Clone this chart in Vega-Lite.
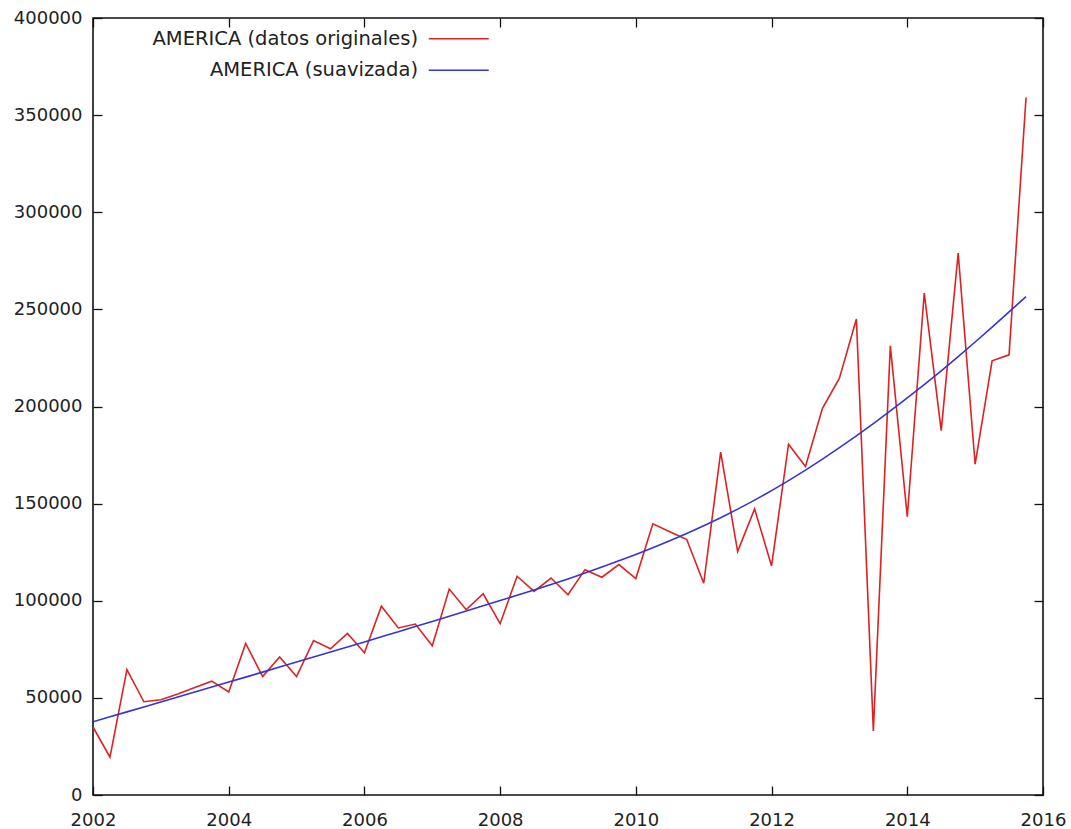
{
  "$schema": "https://vega.github.io/schema/vega-lite/v6.json",
  "width": 950,
  "height": 777,
  "autosize": {"type": "none"},
  "padding": {"left": 93, "top": 18, "right": 28, "bottom": 34},
  "background": "#ffffff",
  "config": {
    "view": {"stroke": "#111111", "strokeWidth": 1.6},
    "font": "DejaVu Sans",
    "axis": {
      "grid": false,
      "domain": false,
      "tickColor": "#111111",
      "tickWidth": 1.3,
      "tickSize": -9,
      "labelFont": "DejaVu Sans",
      "labelFontSize": 18,
      "labelColor": "#222222",
      "title": null
    },
    "legend": {
      "orient": "none",
      "legendX": 356,
      "legendY": 11,
      "padding": 0,
      "title": null,
      "symbolType": "M-6,0H6",
      "symbolSize": 100,
      "symbolStrokeWidth": 1.6,
      "labelFont": "DejaVu Sans",
      "labelFontSize": 19.5,
      "labelColor": "#222222",
      "labelAlign": "right",
      "labelOffset": -50.5,
      "labelLimit": 0,
      "rowPadding": 10.5
    }
  },
  "data": {
    "values": [
      {"serie": "AMERICA (datos originales)", "anio": 2002.00, "valor": 35000},
      {"serie": "AMERICA (datos originales)", "anio": 2002.25, "valor": 19500},
      {"serie": "AMERICA (datos originales)", "anio": 2002.50, "valor": 64500},
      {"serie": "AMERICA (datos originales)", "anio": 2002.75, "valor": 48000},
      {"serie": "AMERICA (datos originales)", "anio": 2003.00, "valor": 49000},
      {"serie": "AMERICA (datos originales)", "anio": 2003.25, "valor": 52000},
      {"serie": "AMERICA (datos originales)", "anio": 2003.50, "valor": 55300},
      {"serie": "AMERICA (datos originales)", "anio": 2003.75, "valor": 58600},
      {"serie": "AMERICA (datos originales)", "anio": 2004.00, "valor": 53000},
      {"serie": "AMERICA (datos originales)", "anio": 2004.25, "valor": 78000},
      {"serie": "AMERICA (datos originales)", "anio": 2004.50, "valor": 61000},
      {"serie": "AMERICA (datos originales)", "anio": 2004.75, "valor": 71000},
      {"serie": "AMERICA (datos originales)", "anio": 2005.00, "valor": 61000},
      {"serie": "AMERICA (datos originales)", "anio": 2005.25, "valor": 79500},
      {"serie": "AMERICA (datos originales)", "anio": 2005.50, "valor": 75300},
      {"serie": "AMERICA (datos originales)", "anio": 2005.75, "valor": 83200},
      {"serie": "AMERICA (datos originales)", "anio": 2006.00, "valor": 73200},
      {"serie": "AMERICA (datos originales)", "anio": 2006.25, "valor": 97200},
      {"serie": "AMERICA (datos originales)", "anio": 2006.50, "valor": 86000},
      {"serie": "AMERICA (datos originales)", "anio": 2006.75, "valor": 88000},
      {"serie": "AMERICA (datos originales)", "anio": 2007.00, "valor": 76800},
      {"serie": "AMERICA (datos originales)", "anio": 2007.25, "valor": 106000},
      {"serie": "AMERICA (datos originales)", "anio": 2007.50, "valor": 95400},
      {"serie": "AMERICA (datos originales)", "anio": 2007.75, "valor": 103600},
      {"serie": "AMERICA (datos originales)", "anio": 2008.00, "valor": 88200},
      {"serie": "AMERICA (datos originales)", "anio": 2008.25, "valor": 112600},
      {"serie": "AMERICA (datos originales)", "anio": 2008.50, "valor": 104800},
      {"serie": "AMERICA (datos originales)", "anio": 2008.75, "valor": 111700},
      {"serie": "AMERICA (datos originales)", "anio": 2009.00, "valor": 103100},
      {"serie": "AMERICA (datos originales)", "anio": 2009.25, "valor": 116000},
      {"serie": "AMERICA (datos originales)", "anio": 2009.50, "valor": 112100},
      {"serie": "AMERICA (datos originales)", "anio": 2009.75, "valor": 118600},
      {"serie": "AMERICA (datos originales)", "anio": 2010.00, "valor": 111400},
      {"serie": "AMERICA (datos originales)", "anio": 2010.25, "valor": 139600},
      {"serie": "AMERICA (datos originales)", "anio": 2010.50, "valor": 135500},
      {"serie": "AMERICA (datos originales)", "anio": 2010.75, "valor": 131500},
      {"serie": "AMERICA (datos originales)", "anio": 2011.00, "valor": 109000},
      {"serie": "AMERICA (datos originales)", "anio": 2011.25, "valor": 176500},
      {"serie": "AMERICA (datos originales)", "anio": 2011.50, "valor": 125300},
      {"serie": "AMERICA (datos originales)", "anio": 2011.75, "valor": 147300},
      {"serie": "AMERICA (datos originales)", "anio": 2012.00, "valor": 117900},
      {"serie": "AMERICA (datos originales)", "anio": 2012.25, "valor": 180600},
      {"serie": "AMERICA (datos originales)", "anio": 2012.50, "valor": 169100},
      {"serie": "AMERICA (datos originales)", "anio": 2012.75, "valor": 199100},
      {"serie": "AMERICA (datos originales)", "anio": 2013.00, "valor": 214600},
      {"serie": "AMERICA (datos originales)", "anio": 2013.25, "valor": 245000},
      {"serie": "AMERICA (datos originales)", "anio": 2013.50, "valor": 33000},
      {"serie": "AMERICA (datos originales)", "anio": 2013.75, "valor": 231200},
      {"serie": "AMERICA (datos originales)", "anio": 2014.00, "valor": 143300},
      {"serie": "AMERICA (datos originales)", "anio": 2014.25, "valor": 258400},
      {"serie": "AMERICA (datos originales)", "anio": 2014.50, "valor": 187600},
      {"serie": "AMERICA (datos originales)", "anio": 2014.75, "valor": 279000},
      {"serie": "AMERICA (datos originales)", "anio": 2015.00, "valor": 170300},
      {"serie": "AMERICA (datos originales)", "anio": 2015.25, "valor": 223500},
      {"serie": "AMERICA (datos originales)", "anio": 2015.50, "valor": 226600},
      {"serie": "AMERICA (datos originales)", "anio": 2015.75, "valor": 359100},
      {"serie": "AMERICA (suavizada)", "anio": 2002.00, "valor": 37700},
      {"serie": "AMERICA (suavizada)", "anio": 2002.25, "valor": 40250},
      {"serie": "AMERICA (suavizada)", "anio": 2002.50, "valor": 42800},
      {"serie": "AMERICA (suavizada)", "anio": 2002.75, "valor": 45350},
      {"serie": "AMERICA (suavizada)", "anio": 2003.00, "valor": 47900},
      {"serie": "AMERICA (suavizada)", "anio": 2003.25, "valor": 50450},
      {"serie": "AMERICA (suavizada)", "anio": 2003.50, "valor": 53000},
      {"serie": "AMERICA (suavizada)", "anio": 2003.75, "valor": 55560},
      {"serie": "AMERICA (suavizada)", "anio": 2004.00, "valor": 58120},
      {"serie": "AMERICA (suavizada)", "anio": 2004.25, "valor": 60690},
      {"serie": "AMERICA (suavizada)", "anio": 2004.50, "valor": 63260},
      {"serie": "AMERICA (suavizada)", "anio": 2004.75, "valor": 65840},
      {"serie": "AMERICA (suavizada)", "anio": 2005.00, "valor": 68420},
      {"serie": "AMERICA (suavizada)", "anio": 2005.25, "valor": 71010},
      {"serie": "AMERICA (suavizada)", "anio": 2005.50, "valor": 73600},
      {"serie": "AMERICA (suavizada)", "anio": 2005.75, "valor": 76200},
      {"serie": "AMERICA (suavizada)", "anio": 2006.00, "valor": 78800},
      {"serie": "AMERICA (suavizada)", "anio": 2006.25, "valor": 81420},
      {"serie": "AMERICA (suavizada)", "anio": 2006.50, "valor": 84050},
      {"serie": "AMERICA (suavizada)", "anio": 2006.75, "valor": 86690},
      {"serie": "AMERICA (suavizada)", "anio": 2007.00, "valor": 89340},
      {"serie": "AMERICA (suavizada)", "anio": 2007.25, "valor": 92000},
      {"serie": "AMERICA (suavizada)", "anio": 2007.50, "valor": 94680},
      {"serie": "AMERICA (suavizada)", "anio": 2007.75, "valor": 97380},
      {"serie": "AMERICA (suavizada)", "anio": 2008.00, "valor": 100100},
      {"serie": "AMERICA (suavizada)", "anio": 2008.25, "valor": 102800},
      {"serie": "AMERICA (suavizada)", "anio": 2008.50, "valor": 105550},
      {"serie": "AMERICA (suavizada)", "anio": 2008.75, "valor": 108350},
      {"serie": "AMERICA (suavizada)", "anio": 2009.00, "valor": 111250},
      {"serie": "AMERICA (suavizada)", "anio": 2009.25, "valor": 114250},
      {"serie": "AMERICA (suavizada)", "anio": 2009.50, "valor": 117350},
      {"serie": "AMERICA (suavizada)", "anio": 2009.75, "valor": 120550},
      {"serie": "AMERICA (suavizada)", "anio": 2010.00, "valor": 123850},
      {"serie": "AMERICA (suavizada)", "anio": 2010.25, "valor": 127300},
      {"serie": "AMERICA (suavizada)", "anio": 2010.50, "valor": 130900},
      {"serie": "AMERICA (suavizada)", "anio": 2010.75, "valor": 134650},
      {"serie": "AMERICA (suavizada)", "anio": 2011.00, "valor": 138600},
      {"serie": "AMERICA (suavizada)", "anio": 2011.25, "valor": 142750},
      {"serie": "AMERICA (suavizada)", "anio": 2011.50, "valor": 147150},
      {"serie": "AMERICA (suavizada)", "anio": 2011.75, "valor": 151800},
      {"serie": "AMERICA (suavizada)", "anio": 2012.00, "valor": 156700},
      {"serie": "AMERICA (suavizada)", "anio": 2012.25, "valor": 161850},
      {"serie": "AMERICA (suavizada)", "anio": 2012.50, "valor": 167250},
      {"serie": "AMERICA (suavizada)", "anio": 2012.75, "valor": 172900},
      {"serie": "AMERICA (suavizada)", "anio": 2013.00, "valor": 178800},
      {"serie": "AMERICA (suavizada)", "anio": 2013.25, "valor": 184900},
      {"serie": "AMERICA (suavizada)", "anio": 2013.50, "valor": 191200},
      {"serie": "AMERICA (suavizada)", "anio": 2013.75, "valor": 197700},
      {"serie": "AMERICA (suavizada)", "anio": 2014.00, "valor": 204400},
      {"serie": "AMERICA (suavizada)", "anio": 2014.25, "valor": 211300},
      {"serie": "AMERICA (suavizada)", "anio": 2014.50, "valor": 218400},
      {"serie": "AMERICA (suavizada)", "anio": 2014.75, "valor": 225700},
      {"serie": "AMERICA (suavizada)", "anio": 2015.00, "valor": 233200},
      {"serie": "AMERICA (suavizada)", "anio": 2015.25, "valor": 240900},
      {"serie": "AMERICA (suavizada)", "anio": 2015.50, "valor": 248700},
      {"serie": "AMERICA (suavizada)", "anio": 2015.75, "valor": 256600}
    ]
  },
  "encoding": {
    "color": {
      "field": "serie",
      "type": "nominal",
      "scale": {
        "domain": ["AMERICA (datos originales)", "AMERICA (suavizada)"],
        "range": ["#dd2222", "#3434d4"]
      }
    }
  },
  "layer": [
    {
      "transform": [{"filter": "datum.serie === 'AMERICA (datos originales)'"}],
      "mark": {"type": "line", "strokeWidth": 1.6, "clip": true},
      "encoding": {
        "x": {
          "field": "anio",
          "type": "quantitative",
          "scale": {"domain": [2002, 2016], "nice": false, "zero": false},
          "axis": {
            "orient": "bottom",
            "values": [2002, 2004, 2006, 2008, 2010, 2012, 2014, 2016],
            "format": "d",
            "labelPadding": 25,
            "labelFlush": false
          }
        },
        "y": {
          "field": "valor",
          "type": "quantitative",
          "scale": {"domain": [0, 400000], "nice": false},
          "axis": {
            "orient": "left",
            "values": [0, 50000, 100000, 150000, 200000, 250000, 300000, 350000, 400000],
            "format": "d",
            "labelPadding": 20,
            "labelFlush": false
          }
        }
      }
    },
    {
      "transform": [{"filter": "datum.serie === 'AMERICA (suavizada)'"}],
      "mark": {"type": "line", "strokeWidth": 1.6, "clip": true},
      "encoding": {
        "x": {
          "field": "anio",
          "type": "quantitative",
          "axis": {
            "orient": "top",
            "values": [2002, 2004, 2006, 2008, 2010, 2012, 2014, 2016],
            "labels": false
          }
        },
        "y": {
          "field": "valor",
          "type": "quantitative",
          "axis": {
            "orient": "right",
            "values": [0, 50000, 100000, 150000, 200000, 250000, 300000, 350000, 400000],
            "labels": false
          }
        }
      }
    }
  ],
  "resolve": {"axis": {"x": "independent", "y": "independent"}}
}
